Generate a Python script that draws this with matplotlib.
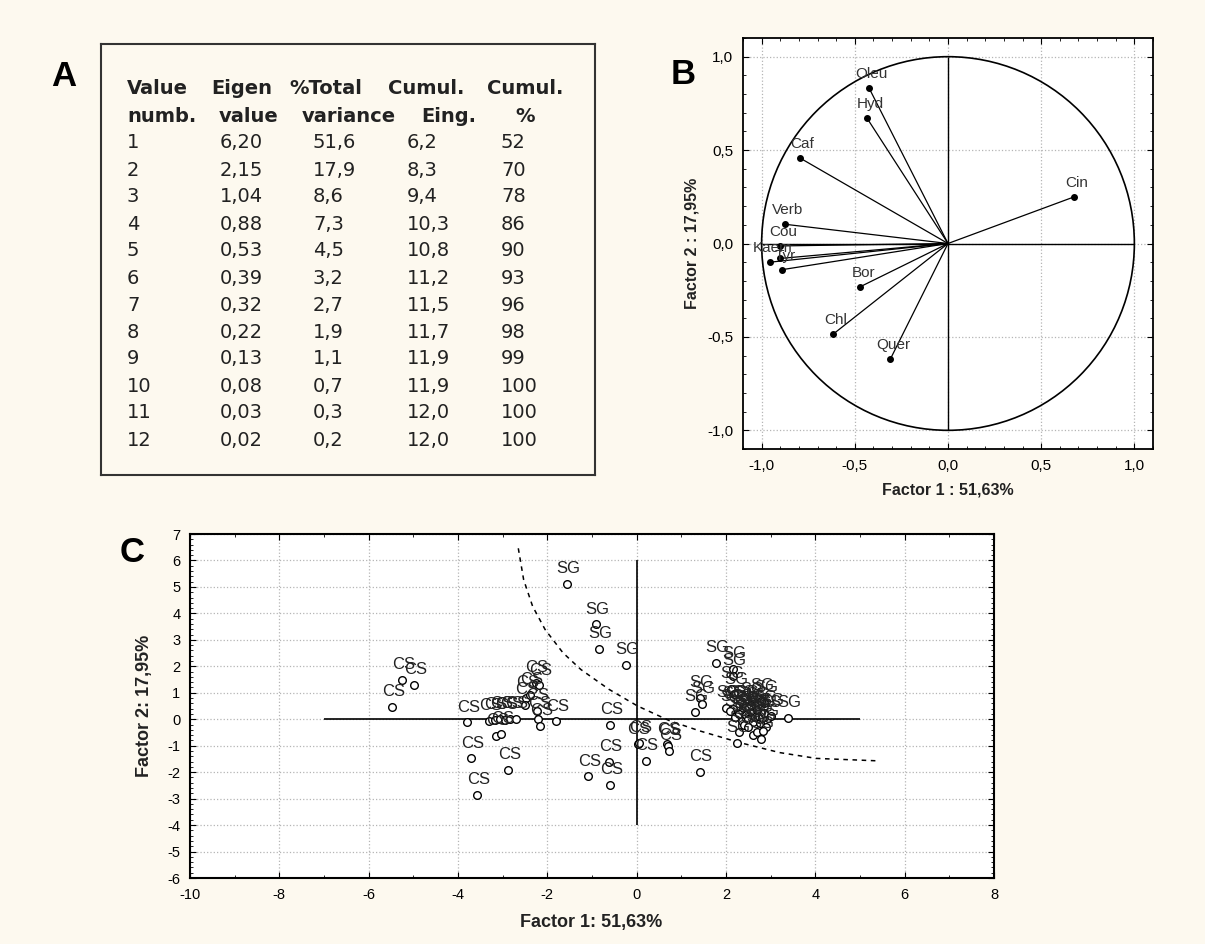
import matplotlib
matplotlib.use("Agg")
import matplotlib.pyplot as plt
from matplotlib.patches import Circle
from matplotlib.ticker import MultipleLocator, FuncFormatter

plt.rcParams['font.family'] = ['Liberation Sans', 'DejaVu Sans']
plt.rcParams['axes.unicode_minus'] = False

# ---- panel A : eigenvalue table ----
value_numb = [1, 2, 3, 4, 5, 6, 7, 8, 9, 10, 11, 12]
eigen_value = [6.20, 2.15, 1.04, 0.88, 0.53, 0.39, 0.32, 0.22, 0.13, 0.08, 0.03, 0.02]
pct_total = [51.6, 17.9, 8.6, 7.3, 4.5, 3.2, 2.7, 1.9, 1.1, 0.7, 0.3, 0.2]
cumul_eig = [6.2, 8.3, 9.4, 10.3, 10.8, 11.2, 11.5, 11.7, 11.9, 11.9, 12.0, 12.0]
cumul_pct = [52, 70, 78, 86, 90, 93, 96, 98, 99, 100, 100, 100]
head_top = ['Value', 'Eigen', '%Total', 'Cumul.', 'Cumul.']
head_bot = ['numb.', 'value', 'variance', 'Eing.', '%']

# ---- panel B : variable loadings on factor 1 / factor 2 ----
var_names = ['Oleu', 'Hyd', 'Caf', 'Cin', 'Verb', 'Cou', 'Kaem', '', 'Tyr', 'Bor', 'Chl', 'Quer']
load_f1 = [-0.425, -0.434, -0.795, 0.675, -0.875, -0.90, -0.955, -0.90, -0.89, -0.47, -0.616, -0.309]
load_f2 = [0.835, 0.67, 0.458, 0.249, 0.103, -0.013, -0.10, -0.08, -0.14, -0.231, -0.485, -0.618]

# ---- panel C : sample scores ----
cs_x = [-5.25, -4.99, -5.47, -3.80, -3.30, -3.18, -3.06, -2.95, -2.84, -2.71,
        -3.14, -3.03, -3.71, -2.87, -3.57, -2.26, -2.18, -2.47, -2.39, -2.49,
        -2.24, -2.20, -2.17, -1.80, -0.60, -1.09, -0.62, -0.59, 0.02, 0.05,
        0.20, 0.68, 0.70, 0.72, 1.41, 2.95, 2.70]
cs_y = [1.48, 1.29, 0.48, -0.12, -0.05, -0.02, 0.0, -0.02, 0.0, 0.02,
        -0.63, -0.56, -1.48, -1.91, -2.85, 1.38, 1.28, 0.80, 0.92, 0.55,
        0.31, 0.02, -0.25, -0.08, -0.22, -2.16, -1.61, -2.47, -0.95, -0.88,
        -1.57, -0.95, -1.0, -1.2, -1.99, 0.05, 0.12]
sg_x = [-1.57, -0.92, -0.84, -0.24, 1.30, 1.41, 1.46, 1.78, 2.15, 2.15,
        2.12, 2.19, 2.01, 2.16, 2.38, 2.20, 2.30, 2.35, 2.45, 2.50,
        2.55, 2.60, 2.65, 2.70, 2.40, 2.50, 2.75, 2.80, 2.85, 2.90,
        2.60, 2.45, 2.30, 2.70, 2.55, 3.01, 3.39, 2.86, 2.78, 2.24,
        2.79, 2.83, 2.10]
sg_y = [5.12, 3.58, 2.66, 2.04, 0.28, 0.82, 0.57, 2.14, 1.89, 1.64,
        1.16, 0.94, 0.44, 0.38, 0.44, 0.10, 0.20, -0.05, 0.15, 0.0,
        0.30, -0.10, 0.10, 0.35, -0.20, -0.30, -0.15, 0.05, 0.25, -0.30,
        -0.60, 0.45, -0.50, -0.50, 0.55, 0.12, 0.06, 0.63, 0.70, -0.88,
        -0.75, -0.45, 0.30]
# dashed separating curve
curve_x = [-2.65, -2.53, -2.33, -2.05, -1.65, -1.25, -0.62, 0.02, 0.74, 1.41, 2.30, 3.20, 4.02, 5.36]
curve_y = [6.46, 5.27, 4.27, 3.39, 2.51, 1.88, 1.13, 0.50, -0.06, -0.44, -0.88, -1.26, -1.48, -1.57]

bg = '#fdf9ef'
W, H = 1205, 944
fig = plt.figure(figsize=(W / 100, H / 100), dpi=100, facecolor=bg)


def fx(x):
    return x / W


def fy(y):
    return 1 - y / H


def box(l, t, r, b):
    return [l / W, 1 - b / H, (r - l) / W, (b - t) / H]


def comma(v, p=None):
    if abs(v) < 1e-9:
        v = 0.0
    return f'{v:.1f}'.replace('.', ',')


# ---------------- A ----------------
ax_a = fig.add_axes(box(101, 44, 595, 475))
ax_a.set_facecolor(bg)
ax_a.set_xticks([])
ax_a.set_yticks([])
for s in ax_a.spines.values():
    s.set_linewidth(1.5)
    s.set_color('#333333')
fig.text(fx(64), fy(77), 'A', fontsize=25, fontweight='bold', ha='center', va='center')

tf = ['DejaVu Sans']
top_x = [127, 211, 289, 388, 487]
bot_x = [127, 219, 302, 421, 525]
col_x = [127, 220, 313, 407, 501]
for i, t in enumerate(head_top):
    fig.text(fx(top_x[i]), fy(89), t, family=tf, fontsize=14, fontweight='bold', va='center', color='#222222')
for i, t in enumerate(head_bot):
    fig.text(fx(bot_x[i]), fy(116), t, family=tf, fontsize=14, fontweight='bold', va='center',
             ha='center' if t == '%' else 'left', color='#222222')
for r in range(len(value_numb)):
    row = [str(value_numb[r]),
           f'{eigen_value[r]:.2f}'.replace('.', ','),
           f'{pct_total[r]:.1f}'.replace('.', ','),
           f'{cumul_eig[r]:.1f}'.replace('.', ','),
           str(cumul_pct[r])]
    for c, t in enumerate(row):
        fig.text(fx(col_x[c]), fy(143 + 27 * r), t, family=tf, fontsize=14, va='center', color='#222222')

# ---------------- B ----------------
ax_b = fig.add_axes(box(743, 38, 1153, 449))
ax_b.set_xlim(-1.1, 1.1)
ax_b.set_ylim(-1.1, 1.1)
ax_b.grid(True, ls=':', color='#b5b5b5', lw=0.9)
ax_b.set_axisbelow(True)
ax_b.add_patch(Circle((0, 0), 1, fill=False, lw=1.2, color='black'))
ax_b.hlines(0, -1, 1, color='black', lw=1)
ax_b.vlines(0, -1, 1, color='black', lw=1)
for name, a, b in zip(var_names, load_f1, load_f2):
    ax_b.plot([0, a], [0, b], color='black', lw=0.9)
    ax_b.plot(a, b, 'o', ms=4, color='black')
    if name:
        ax_b.annotate(name, (a, b), xytext=(2, 10), textcoords='offset points',
                      ha='center', va='center', fontsize=11, color='#333333')
ax_b.xaxis.set_major_locator(MultipleLocator(0.5))
ax_b.yaxis.set_major_locator(MultipleLocator(0.5))
ax_b.xaxis.set_minor_locator(MultipleLocator(0.1))
ax_b.yaxis.set_minor_locator(MultipleLocator(0.1))
ax_b.xaxis.set_major_formatter(FuncFormatter(comma))
ax_b.yaxis.set_major_formatter(FuncFormatter(comma))
ax_b.tick_params(which='both', direction='in', top=True, right=True, labelsize=11, pad=7)
ax_b.tick_params(which='major', length=4)
ax_b.tick_params(which='minor', length=2.5)
for s in ax_b.spines.values():
    s.set_linewidth(1.3)
fig.text(fx(683), fy(75), 'B', fontsize=25, fontweight='bold', ha='center', va='center')
fig.text(fx(692), fy(243), 'Factor 2 : 17,95%', rotation=90, fontsize=11.5, fontweight='bold',
         ha='center', va='center', color='#222222')
fig.text(fx(948), fy(490), 'Factor 1 : 51,63%', fontsize=11.5, fontweight='bold',
         ha='center', va='center', color='#222222')

# ---------------- C ----------------
ax_c = fig.add_axes(box(190, 534, 994, 878))
ax_c.set_xlim(-10, 8)
ax_c.set_ylim(-6, 7)
ax_c.grid(True, ls=':', color='#b5b5b5', lw=0.9)
ax_c.set_axisbelow(True)
ax_c.hlines(0, -7, 5, color='black', lw=1.2)
ax_c.vlines(0, -4, 6, color='black', lw=1.2)
ax_c.plot(curve_x, curve_y, color='black', lw=1.1, ls=(0, (3, 3)))
ax_c.plot(cs_x, cs_y, 'o', ms=5.5, mfc='white', mec='black', mew=1)
ax_c.plot(sg_x, sg_y, 'o', ms=5.5, mfc='white', mec='black', mew=1)
for xs, ys, lab in [(cs_x, cs_y, 'CS'), (sg_x, sg_y, 'SG')]:
    for a, b in zip(xs, ys):
        ax_c.annotate(lab, (a, b), xytext=(1, 11), textcoords='offset points',
                      ha='center', va='center', fontsize=12, color='#222222')
ax_c.xaxis.set_major_locator(MultipleLocator(2))
ax_c.yaxis.set_major_locator(MultipleLocator(1))
ax_c.xaxis.set_minor_locator(MultipleLocator(1))
ax_c.yaxis.set_minor_locator(MultipleLocator(0.2))
ax_c.tick_params(which='both', direction='in', top=True, right=True, labelsize=10.5, pad=7)
ax_c.tick_params(which='major', length=4)
ax_c.tick_params(which='minor', length=2.5)
for s in ax_c.spines.values():
    s.set_linewidth(1.5)
fig.text(fx(132), fy(552), 'C', fontsize=25, fontweight='bold', ha='center', va='center')
fig.text(fx(145), fy(706), 'Factor 2: 17,95%', rotation=90, fontsize=13, fontweight='bold',
         ha='center', va='center', color='#222222')
fig.text(fx(591), fy(922), 'Factor 1: 51,63%', fontsize=13, fontweight='bold',
         ha='center', va='center', color='#222222')

fig.savefig('out.png', dpi=100, facecolor=bg)
